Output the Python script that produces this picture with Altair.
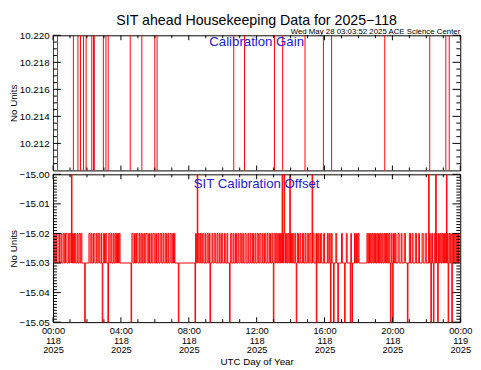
import json
import altair as alt
import pandas as pd

FONT = "Liberation Sans"

title_text = "SIT ahead Housekeeping Data for 2025\u2212118"
stamp_text = "Wed May 28 03:03:52 2025 ACE Science Center"
panel_labels = ["Calibration Gain", "SIT Calibration Offset"]
y_title = "No Units"
x_title = "UTC Day of Year"

# x axis (minutes of day 118)
x_tick_minutes = [0, 240, 480, 720, 960, 1200, 1440]
x_tick_hm = ["00:00", "04:00", "08:00", "12:00", "16:00", "20:00", "00:00"]
x_tick_doy = ["118", "118", "118", "118", "118", "118", "119"]
x_tick_year = ["2025", "2025", "2025", "2025", "2025", "2025", "2025"]
x_minor_minutes = [60, 120, 180, 300, 360, 420, 540, 600, 660, 780, 840, 900,
                   1020, 1080, 1140, 1260, 1320, 1380]

# Calibration gain: change times (minutes) and levels (out of range = clipped)
gain_minutes = [0, 1, 16, 72, 88, 97, 108, 117, 137, 143, 146, 178, 187, 195, 273,
                314, 360, 368, 639, 677, 783, 812, 891, 956, 985, 1173, 1332,
                1389, 1401, 1440]
gain_values = [10.2205, 10.2095, 10.2205, 10.2095, 10.2205, 10.2095, 10.2205,
               10.2095, 10.2205, 10.2095, 10.2205, 10.2095, 10.2205, 10.2095,
               10.2205, 10.2095, 10.2205, 10.2095, 10.2205, 10.2095, 10.2205,
               10.2095, 10.2205, 10.2095, 10.2205, 10.2095, 10.2205, 10.2095,
               10.2205, 10.2205]
gain_ticks = [10.212, 10.214, 10.216, 10.218, 10.220]
gain_domain = [10.210, 10.220]

# Calibration offset: intervals at -15.02 (else -15.03), plus short spikes
offset_levels = {"low": -15.03, "high": -15.02, "up": -14.99, "down": -15.06}
offset_high_segments = [
    (2, 6), (10, 13), (18, 23), (28, 31), (36, 40), (44, 49), (54, 57), (60, 64),
    (69, 72), (76, 80), (85, 88), (92, 96), (99, 102),
    (127, 131), (135, 138), (143, 148), (153, 156), (160, 165), (170, 172),
    (178, 182), (186, 190), (197, 201), (205, 208), (213, 216), (220, 223),
    (225, 228), (230, 232), (234, 237),
    (279, 283), (288, 291), (295, 300), (305, 308), (312, 316), (321, 324),
    (328, 333), (338, 341), (346, 349), (353, 358), (363, 366), (371, 374),
    (379, 384), (389, 392), (397, 401), (406, 409), (414, 418), (423, 426),
    (429, 431),
    (504, 507), (513, 517), (521, 524), (529, 533), (538, 540), (545, 549),
    (553, 557), (562, 565), (570, 575), (580, 583), (588, 591), (596, 600),
    (606, 609), (615, 618), (628, 632), (637, 640), (645, 649), (654, 657),
    (662, 666), (671, 674), (679, 683), (689, 692), (697, 700), (705, 709),
    (714, 717), (722, 726), (731, 735), (740, 743), (748, 752), (757, 760),
    (765, 769),
    (774, 777), (782, 786), (789, 792), (795, 798), (801, 804), (806, 809),
    (813, 815), (819, 822), (825, 828), (831, 834), (840, 843), (847, 851),
    (855, 858), (864, 868), (873, 876), (882, 886), (891, 894), (899, 903),
    (908, 912), (919, 923),
    (930, 934), (938, 941), (946, 950), (957, 960), (970, 973), (977, 980),
    (984, 987), (1000, 1003), (1020, 1023), (1037, 1040), (1052, 1055),
    (1066, 1069), (1073, 1076), (1079, 1082),
    (1110, 1113), (1116, 1119), (1122, 1125), (1128, 1131), (1134, 1137),
    (1140, 1142), (1145, 1148), (1151, 1154), (1157, 1160), (1163, 1166),
    (1170, 1173), (1176, 1179), (1182, 1185), (1188, 1191), (1196, 1199),
    (1204, 1207), (1210, 1213),
    (1220, 1224), (1231, 1234), (1242, 1246), (1260, 1264), (1270, 1273),
    (1281, 1285), (1293, 1296), (1305, 1309), (1316, 1320),
    (1331, 1334), (1339, 1342), (1348, 1351), (1356, 1358), (1363, 1366),
    (1369, 1372), (1375, 1378), (1381, 1384), (1387, 1389), (1394, 1396),
    (1400, 1403), (1406, 1408), (1413, 1416), (1419, 1422), (1425, 1428),
    (1431, 1434), (1436, 1440),
]
offset_up_spikes = [65, 510, 810, 817, 837, 916, 1328, 1353, 1391]
offset_down_spikes = [112, 174, 194, 276, 443, 502, 555, 624, 779, 860, 931, 981,
                      992, 1007, 1031, 1051, 1057, 1193, 1201, 1253, 1336, 1345,
                      1360, 1397, 1410]
spike_minutes = 2
offset_ticks = [-15.05, -15.04, -15.03, -15.02, -15.01, -15.00]
offset_domain = [-15.05, -15.00]

# ---------- build tables ----------
gain_df = pd.DataFrame({"minute": gain_minutes, "value": gain_values})


def offset_level(m):
    for t in offset_up_spikes:
        if t <= m < t + spike_minutes:
            return offset_levels["up"]
    for t in offset_down_spikes:
        if t <= m < t + spike_minutes:
            return offset_levels["down"]
    for s, e in offset_high_segments:
        if s <= m < e:
            return offset_levels["high"]
    return offset_levels["low"]


pts = {0, 1440}
for s, e in offset_high_segments:
    pts |= {s, e}
for t in offset_up_spikes + offset_down_spikes:
    pts |= {t, t + spike_minutes}
pts = sorted(p for p in pts if p <= 1440)
offset_rows = [(m, offset_level(m)) for m in pts[:-1]] + [(1440, offset_level(1439.5))]
offset_df = pd.DataFrame(offset_rows, columns=["minute", "value"])

gain_minor = [round(10.210 + 0.0005 * i, 4) for i in range(21)]
gain_minor = [v for v in gain_minor if all(abs(v - t) > 1e-6 for t in gain_ticks + [10.210])]
offset_minor = [round(-15.05 + 0.001 * i, 3) for i in range(51)]
offset_minor = [v for v in offset_minor if all(abs(v - t) > 1e-6 for t in offset_ticks)]

W = 416
RED = "#ff0000"
BLUE = "#2020d0"

i_expr = "round(datum.value/240)"
label_expr = "[{a}[{i}], {b}[{i}], {c}[{i}]]".format(
    a=json.dumps(x_tick_hm), b=json.dumps(x_tick_doy), c=json.dumps(x_tick_year), i=i_expr)

x_scale = alt.Scale(domain=[0, 1440], nice=False, zero=False)


def panel(df, domain, ticks, minor, fmt, height, label, label_y, bottom, extra=None):
    y_scale = alt.Scale(domain=domain, nice=False, zero=False)
    if bottom:
        x_axis = alt.Axis(values=x_tick_minutes, labelExpr=label_expr, ticks=False,
                          domain=False, grid=False, labelFontSize=9.5, labelLineHeight=9.5,
                          labelPadding=4, labelBaseline="top", labelFlush=False,
                          labelOverlap=False, labelColor="black", title=x_title,
                          titleFontSize=10, titleFontWeight="normal", titleColor="black",
                          titlePadding=3)
    else:
        x_axis = None
    y_axis = alt.Axis(values=ticks, format=fmt, ticks=False, domain=False, grid=False,
                      labelFontSize=10, labelPadding=4, labelColor="black",
                      labelOverlap=False, labelFlush=False, labelBound=False,
                      labelSeparation=0,
                      title=y_title, titleFontSize=10, titleFontWeight="normal",
                      titleColor="black", titleX=-35, titleBaseline="bottom")
    yy = alt.Y("value:Q", scale=y_scale, axis=y_axis, title=y_title)
    xx = alt.X("minute:Q", scale=x_scale, axis=x_axis, title=x_title)

    line = alt.Chart(df).mark_line(interpolate="step-after", color=RED, strokeWidth=1.0,
                                   clip=True).encode(x=xx, y=yy)
    layers = [line]

    def yticks(vals, ln):
        d = pd.DataFrame({"minute": [0] * len(vals), "value": vals})
        base = alt.Chart(d).mark_rule(color="black", strokeWidth=1)
        return [base.encode(y=yy, x=alt.value(0), x2=alt.value(ln)),
                base.encode(y=yy, x=alt.value(W - ln), x2=alt.value(W))]

    def xticks(vals, ln):
        d = pd.DataFrame({"minute": vals, "value": [domain[0]] * len(vals)})
        base = alt.Chart(d).mark_rule(color="black", strokeWidth=1)
        return [base.encode(x=xx, y=alt.value(0), y2=alt.value(ln)),
                base.encode(x=xx, y=alt.value(height - ln), y2=alt.value(height))]

    layers += yticks(ticks, 8) + yticks(minor, 4)
    layers += xticks(x_tick_minutes, 5) + xticks(x_minor_minutes, 3)
    txt = alt.Chart(pd.DataFrame({"label": [label]})).mark_text(
        color=BLUE, fontSize=13.5, font=FONT, baseline="middle", align="center").encode(
        x=alt.value(W / 2), y=alt.value(label_y), text="label:N")
    layers.append(txt)
    if extra:
        layers += extra
    return alt.layer(*layers).properties(width=W, height=height)


head = [
    alt.Chart(pd.DataFrame({"t": [title_text]})).mark_text(
        fontSize=14.5, font=FONT, color="black", align="center", baseline="alphabetic").encode(
        x=alt.value(W / 2), y=alt.value(-11), text="t:N"),
    alt.Chart(pd.DataFrame({"t": [stamp_text]})).mark_text(
        fontSize=8, font=FONT, color="black", align="right", baseline="alphabetic").encode(
        x=alt.value(W), y=alt.value(-1), text="t:N"),
]

top = panel(gain_df, gain_domain, gain_ticks, gain_minor, ".3f", 138,
            panel_labels[0], 7, False, head)
bottom = panel(offset_df, offset_domain, offset_ticks, offset_minor, ".2f", 151,
               panel_labels[1], 10, True)

chart = alt.vconcat(top, bottom, spacing=4, bounds="flush").properties(
    padding={"left": 0, "top": 0, "right": 0, "bottom": 0}
).configure(font=FONT).configure_view(stroke="black", strokeWidth=1)

chart.save("out.html", embed_options={"renderer": "svg", "actions": False})
